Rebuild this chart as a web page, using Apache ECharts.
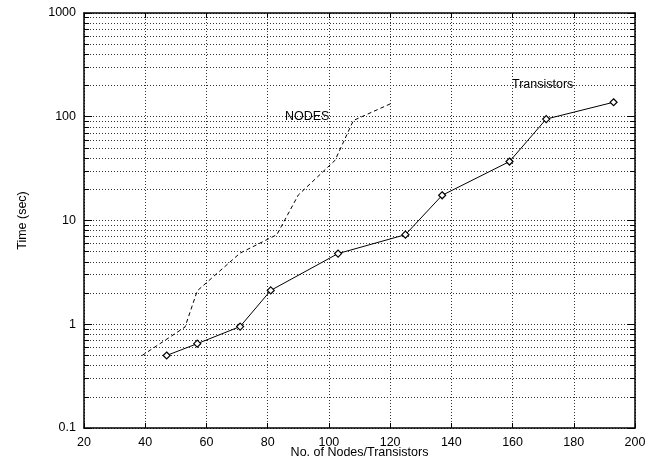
<!DOCTYPE html>
<html>
<head>
<meta charset="utf-8">
<script src="https://cdn.jsdelivr.net/npm/echarts@6/dist/echarts.min.js"></script>
<style>html,body{margin:0;padding:0;background:#fff;}#c{width:670px;height:460px;}</style>
</head>
<body>
<div id="c"></div>
<script>
const transistorX = [47, 57, 71, 81, 103, 125, 137, 159, 171, 193];
const transistorY = [0.5, 0.65, 0.95, 2.12, 4.8, 7.3, 17.5, 37, 95, 138];
const nodesX = [39, 53, 57, 71, 83, 90, 102, 108, 121];
const nodesY = [0.5, 0.94, 2.1, 4.85, 7.3, 17.6, 38, 92, 137];
const xTicks = [20, 40, 60, 80, 100, 120, 140, 160, 180, 200];
const yTicks = [0.1, 1, 10, 100, 1000];

const FONT = '"Liberation Sans", Arial, sans-serif';
const chart = echarts.init(document.getElementById('c'), null, {renderer: 'canvas'});
const gridLine = {show: true, lineStyle: {color: '#333', type: [1, 2], width: 1}};
chart.setOption({
  animation: false,
  backgroundColor: '#fff',
  grid: {left: 84, right: 35, top: 13, bottom: 32, containLabel: false, outerBoundsMode: 'none'},
  xAxis: [{
    type: 'value', min: xTicks[0], max: xTicks[xTicks.length - 1], interval: 20,
    name: 'No. of Nodes/Transistors', nameLocation: 'middle', nameGap: 18, nameMoveOverlap: false,
    nameTextStyle: {color: '#000', fontSize: 12.5, fontFamily: FONT},
    axisLine: {show: true, onZero: false, lineStyle: {color: '#000', width: 1.5}},
    axisTick: {show: true, inside: true, length: 5, lineStyle: {color: '#000'}},
    axisLabel: {color: '#000', fontSize: 12.5, fontFamily: FONT, margin: 8},
    splitLine: gridLine
  }, {
    type: 'value', position: 'top', min: xTicks[0], max: xTicks[xTicks.length - 1], interval: 20,
    axisLine: {show: true, onZero: false, lineStyle: {color: '#000', width: 1.5}},
    axisTick: {show: true, inside: true, length: 5, lineStyle: {color: '#000'}},
    axisLabel: {show: false}, splitLine: {show: false}
  }],
  yAxis: [{
    type: 'log', logBase: 10, min: yTicks[0], max: yTicks[yTicks.length - 1],
    name: 'Time (sec)', nameLocation: 'middle', nameGap: 55, nameRotate: 90, nameMoveOverlap: false,
    nameTextStyle: {color: '#000', fontSize: 12.5, fontFamily: FONT},
    axisLine: {show: true, onZero: false, lineStyle: {color: '#000', width: 1.5}},
    axisTick: {show: true, inside: true, length: 8, lineStyle: {color: '#000'}},
    minorTick: {show: true, splitNumber: 9, length: 5, lineStyle: {color: '#000'}},
    minorSplitLine: gridLine,
    axisLabel: {color: '#000', fontSize: 12.5, fontFamily: FONT, margin: 8,
      formatter: v => String(+v.toPrecision(6))},
    splitLine: gridLine
  }, {
    type: 'log', logBase: 10, min: yTicks[0], max: yTicks[yTicks.length - 1], position: 'right',
    axisLine: {show: true, onZero: false, lineStyle: {color: '#000', width: 1.5}},
    axisTick: {show: true, inside: true, length: 8, lineStyle: {color: '#000'}},
    minorTick: {show: true, splitNumber: 9, length: 5, lineStyle: {color: '#000'}},
    axisLabel: {show: false}, splitLine: {show: false}
  }],
  graphic: [
    {type: 'text', left: 285, top: 110, style: {text: 'NODES', fill: '#000', font: '12.5px ' + FONT}},
    {type: 'text', left: 512, top: 78, style: {text: 'Transistors', fill: '#000', font: '12.5px ' + FONT}}
  ],
  series: [{
    name: 'NODES', type: 'line', data: nodesX.map((x, i) => [x, nodesY[i]]),
    showSymbol: false, symbol: 'none',
    lineStyle: {color: '#000', width: 1, type: [4, 3]}
  }, {
    name: 'Transistors', type: 'line', data: transistorX.map((x, i) => [x, transistorY[i]]),
    symbol: 'diamond', symbolSize: 7,
    itemStyle: {color: '#fff', borderColor: '#000', borderWidth: 1.2},
    lineStyle: {color: '#000', width: 1}
  }]
});
</script>
</body>
</html>
